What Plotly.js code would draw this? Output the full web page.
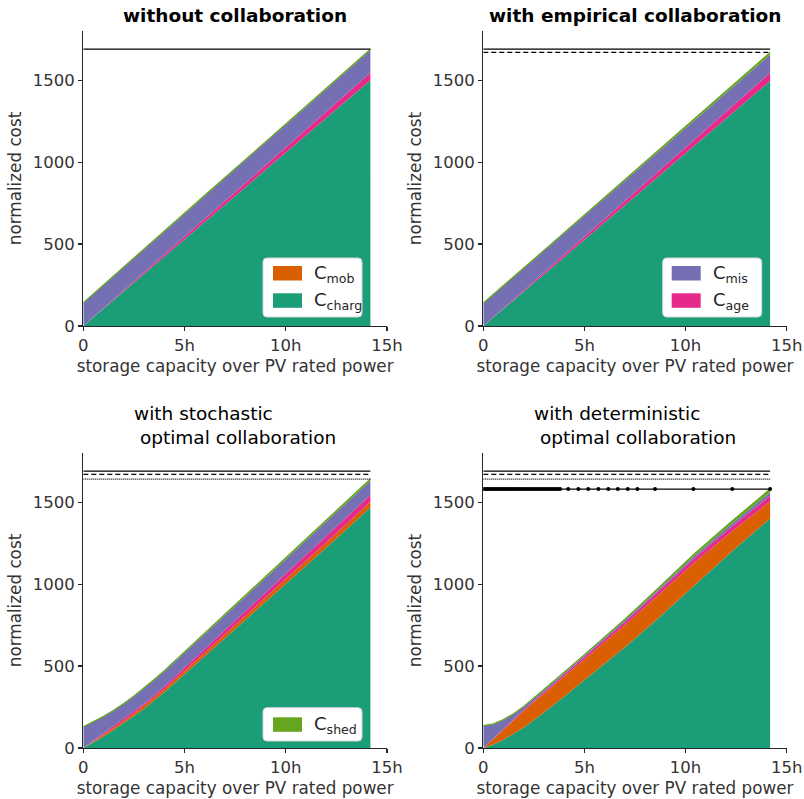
<!DOCTYPE html>
<html><head><meta charset="utf-8">
<script src="https://cdn.plot.ly/plotly-3.0.1.min.js"></script>
<style>body{margin:0;padding:0;background:#fff;} #chart{width:804px;height:799px;}</style>
</head><body><div id="chart"></div>
<script>
// ---------- data ----------
const storageHours = [0, 0.5, 1, 1.5, 2, 2.5, 3, 3.5, 4, 5, 6, 7, 8.5, 10.4, 12.3, 14.18];

// without collaboration
const noCharg = [0, 53, 106, 158, 212, 264, 317, 370, 423, 529, 636, 741, 900, 1100, 1300, 1500];
const noMob   = [0, 0, 0, 0, 0, 0, 0, 0, 0, 0, 0, 0, 0, 0, 0, 0];
const noAge   = [0, 2, 3, 5, 6, 8, 10, 11, 13, 16, 19, 22, 27, 33, 39, 45];
const noMis   = [140, 140, 140, 139, 139, 139, 139, 139, 139, 139, 139, 139, 139, 138, 138, 138];
const noShed  = [2, 2, 2, 2, 3, 3, 3, 3, 3, 4, 4, 4, 5, 5, 6, 6];

// with empirical collaboration
const empCharg = [0, 52, 105, 158, 210, 262, 315, 368, 420, 526, 632, 738, 896, 1096, 1296, 1495];
const empMob   = [0, 0, 0, 0, 0, 0, 0, 0, 0, 0, 0, 0, 0, 0, 0, 0];
const empAge   = [0, 2, 4, 5, 7, 9, 11, 12, 14, 18, 21, 25, 30, 37, 43, 50];
const empMis   = [138, 137, 136, 135, 134, 133, 132, 131, 130, 128, 126, 124, 121, 117, 113, 110];
const empShed  = [2, 2, 3, 3, 3, 4, 4, 4, 5, 5, 6, 7, 8, 10, 12, 14];

// with stochastic optimal collaboration
const stoCharg = [0, 33, 70, 110, 150, 195, 240, 290, 340, 450, 560, 668, 831, 1042, 1255, 1468];
const stoMob   = [0, 8, 12, 14, 15, 16, 17, 18, 19, 21, 23, 25, 28, 30, 32, 34];
const stoAge   = [0, 4, 6, 8, 10, 11, 13, 14, 16, 19, 22, 25, 29, 34, 38, 41];
const stoMis   = [128, 112, 102, 96, 93, 92, 92, 92, 92, 92, 92, 92, 92, 91, 90, 88];
const stoShed  = [2, 2, 3, 3, 3, 4, 4, 4, 5, 5, 6, 6, 7, 8, 9, 10];

// with deterministic optimal collaboration
const detCharg = [0, 22, 50, 85, 125, 170, 218, 265, 315, 415, 515, 615, 775, 990, 1200, 1400];
const detMob   = [0, 35, 65, 85, 100, 110, 115, 120, 123, 128, 132, 136, 140, 138, 122, 104];
const detAge   = [0, 2, 4, 6, 8, 9, 10, 11, 12, 14, 16, 18, 22, 27, 31, 35];
const detMis   = [135, 86, 52, 30, 18, 12, 9, 8, 8, 8, 9, 10, 12, 14, 17, 21];
const detShed  = [2, 2, 3, 3, 3, 4, 4, 4, 5, 5, 6, 7, 9, 12, 15, 20];

// reference total-cost levels (horizontal lines)
const totalNoCollab = 1689;
const totalEmpirical = 1669;
const totalStochastic = 1641;
const totalDeterministic = 1580;
const refLineEnd = [0, 14.18];
const detComputedHours = [0, 0.1, 0.2, 0.3, 0.4, 0.5, 0.6, 0.7, 0.8, 0.9, 1.0, 1.1, 1.2, 1.3, 1.4, 1.5, 1.6, 1.7, 1.8, 1.9,
  2.0, 2.1, 2.2, 2.3, 2.4, 2.5, 2.6, 2.7, 2.8, 2.9, 3.0, 3.1, 3.2, 3.3, 3.4, 3.5, 3.6, 3.7, 3.8,
  4.2, 4.7, 5.19, 5.69, 6.18, 6.65, 7.14, 7.62, 8.49, 10.39, 12.31, 14.18];

const xTickVals = [0, 5, 10, 15];
const xTickText = ['0', '5h', '10h', '15h'];
const yTickVals = [0, 500, 1000, 1500];
const yTickText = ['0', '500', '1000', '1500'];

const seriesNames = ['C<sub>charg</sub>', 'C<sub>mob</sub>', 'C<sub>age</sub>', 'C<sub>mis</sub>', 'C<sub>shed</sub>'];
const seriesColors = ['#1b9e77', '#d95f02', '#e7298a', '#7570b3', '#66a61e'];

const panelTitles = [
  '<b>without collaboration</b>',
  '<b>with empirical collaboration</b>',
  'with stochastic<br>\u00a0optimal collaboration',
  'with deterministic<br>\u00a0optimal collaboration'
];

// ---------- build ----------
const W = 804, H = 799;
const px = v => v / W;
const py = v => 1 - v / H;
const FONT = 'DejaVu Sans';

const panels = [
  {ax: '', data: [noCharg, noMob, noAge, noMis, noShed], lines: [[totalNoCollab, 'solid']]},
  {ax: '2', data: [empCharg, empMob, empAge, empMis, empShed], lines: [[totalNoCollab, 'solid'], [totalEmpirical, '5px,3px']]},
  {ax: '3', data: [stoCharg, stoMob, stoAge, stoMis, stoShed], lines: [[totalNoCollab, 'solid'], [totalEmpirical, '5px,3px'], [totalStochastic, '1px,1px']]},
  {ax: '4', data: [detCharg, detMob, detAge, detMis, detShed], lines: [[totalNoCollab, 'solid'], [totalEmpirical, '5px,3px'], [totalStochastic, '1px,1px']]}
];

const traces = [];
panels.forEach((p, pi) => {
  p.data.forEach((vals, si) => {
    traces.push({
      type: 'scatter', mode: 'lines', x: storageHours, y: vals,
      xaxis: 'x' + p.ax, yaxis: 'y' + p.ax,
      stackgroup: 'g' + pi, name: seriesNames[si],
      line: {width: si === 4 ? 1.2 : 0, color: seriesColors[si]},
      fillcolor: seriesColors[si], showlegend: false, hoverinfo: 'skip'
    });
  });
  p.lines.forEach(([lvl, dash]) => {
    traces.push({
      type: 'scatter', mode: 'lines', x: refLineEnd, y: [lvl, lvl],
      xaxis: 'x' + p.ax, yaxis: 'y' + p.ax,
      line: {color: '#000', width: 1.2, dash: dash}, showlegend: false, hoverinfo: 'skip'
    });
  });
});
traces.push({
  type: 'scatter', mode: 'lines+markers', x: detComputedHours,
  y: detComputedHours.map(() => totalDeterministic),
  xaxis: 'x4', yaxis: 'y4',
  line: {color: '#000', width: 1.2}, marker: {color: '#000', size: 4},
  showlegend: false, hoverinfo: 'skip'
});

const xDomL = [px(83.3), px(387)], xDomR = [px(483.3), px(786.7)];
const yDomT = [py(326), py(31)], yDomB = [py(748), py(453)];

function xAx(dom, anchor) {
  return {domain: dom, anchor: anchor, range: [0, 15], tickvals: xTickVals, ticktext: xTickText,
    showline: true, linecolor: '#262626', linewidth: 1.3, ticks: 'outside', ticklen: 4, tickwidth: 1.2,
    tickcolor: '#262626', showgrid: false, zeroline: false,
    tickfont: {family: FONT, size: 16.5, color: '#333'},
    title: {text: 'storage capacity over PV rated power', font: {family: FONT, size: 16.8, color: '#333'}, standoff: 6}};
}
function yAx(dom, anchor) {
  return {domain: dom, anchor: anchor, range: [0, 1800], tickvals: yTickVals, ticktext: yTickText,
    showline: true, linecolor: '#262626', linewidth: 1.3, ticks: 'outside', ticklen: 4, tickwidth: 1.2,
    tickcolor: '#262626', showgrid: false, zeroline: false,
    tickfont: {family: FONT, size: 16.5, color: '#333'},
    title: {text: 'normalized cost', font: {family: FONT, size: 16.8, color: '#333'}, standoff: 6}};
}

const annotations = [];
const shapes = [];
// panel titles
const titleCenters = [[235, 16], [635, 16], [235, 425], [635, 425]];
panelTitles.forEach((t, i) => {
  annotations.push({xref: 'paper', yref: 'paper', x: px(titleCenters[i][0]), y: py(titleCenters[i][1]),
    xanchor: 'center', yanchor: 'middle', align: 'left', showarrow: false, text: t,
    font: {family: FONT, size: 18.5, color: '#000'}});
});

// legends (boxes with patches)
function roundRect(x0, y0, x1, y1, r) {
  const X0 = px(x0), X1 = px(x1), Y0 = py(y0), Y1 = py(y1), rx = r / W, ry = r / H;
  return `M${X0 + rx},${Y0} L${X1 - rx},${Y0} Q${X1},${Y0} ${X1},${Y0 - ry} L${X1},${Y1 + ry} Q${X1},${Y1} ${X1 - rx},${Y1} L${X0 + rx},${Y1} Q${X0},${Y1} ${X0},${Y1 + ry} L${X0},${Y0 - ry} Q${X0},${Y0} ${X0 + rx},${Y0} Z`;
}
const legends = [
  {box: [263, 258, 362, 317], items: [[1, 273, 266], [0, 273, 293.3]]},
  {box: [662.7, 258, 761.7, 317], items: [[3, 671.7, 266], [2, 671.7, 293.3]]},
  {box: [263, 707.7, 362, 741], items: [[4, 273, 717.3]]}
];
legends.forEach(L => {
  const [a, b, c, d] = L.box;
  shapes.push({type: 'path', xref: 'paper', yref: 'paper', path: roundRect(a, b, c, d, 4),
    fillcolor: '#fff', line: {color: '#d6d6d6', width: 1}});
  L.items.forEach(([si, x, y]) => {
    shapes.push({type: 'rect', xref: 'paper', yref: 'paper', x0: px(x), x1: px(x + 29), y0: py(y), y1: py(y + 14.5),
      fillcolor: seriesColors[si], line: {width: 0}});
    annotations.push({xref: 'paper', yref: 'paper', x: px(x + 39), y: py(y + 7.5), xanchor: 'left', yanchor: 'middle',
      showarrow: false, text: seriesNames[si], font: {family: FONT, size: 18, color: '#262626'}});
  });
});

const layout = {
  width: W, height: H, margin: {l: 0, r: 0, t: 0, b: 0},
  paper_bgcolor: '#fff', plot_bgcolor: 'rgba(0,0,0,0)',
  font: {family: FONT},
  showlegend: false,
  xaxis: xAx(xDomL, 'y'), yaxis: yAx(yDomT, 'x'),
  xaxis2: xAx(xDomR, 'y2'), yaxis2: yAx(yDomT, 'x2'),
  xaxis3: xAx(xDomL, 'y3'), yaxis3: yAx(yDomB, 'x3'),
  xaxis4: xAx(xDomR, 'y4'), yaxis4: yAx(yDomB, 'x4'),
  annotations: annotations, shapes: shapes
};

Plotly.newPlot('chart', traces, layout, {staticPlot: true, displayModeBar: false});
</script></body></html>
